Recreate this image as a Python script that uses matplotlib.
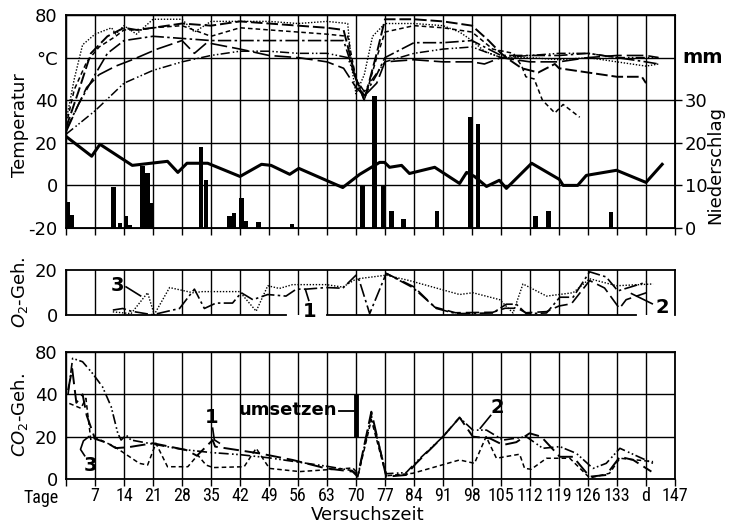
import matplotlib
matplotlib.use('Agg')
import matplotlib.pyplot as plt
import matplotlib.transforms as mtransforms
from matplotlib import font_manager

# ---- data ----
days_grid = list(range(0, 148, 7))
x_labels = [''] + [str(d) for d in range(7, 140, 7)] + ['d', '147']

# precipitation bars (mm)
rain_day = [0.5, 1.5, 11.5, 13, 14.5, 15.5, 18.5, 19.7, 20.7, 32.6, 33.8, 39.5, 40.6, 42.3,
            43.5, 46.5, 54.5, 71.6, 74.5, 76.5, 78.6, 81.5, 89.5, 97.7, 99.5, 113.3, 116.5, 131.6]
rain_mm = [6, 3, 9.6, 1.2, 2.8, 0.7, 14.6, 13, 5.9, 19, 11.3, 2.8, 3.5, 7.1,
           1.7, 1.4, 1, 10, 31, 10, 4, 2, 4, 26, 24.5, 2.8, 4, 3.7]

# air temperature (deg C)
air_day = [0, 6.2, 8.2, 16, 24.5, 27, 29.2, 34.2, 42, 47.2, 49.5, 54, 56.2, 66.8, 70.9, 75.7,
           76.9, 78.1, 81, 82.9, 89, 95, 96.7, 98.6, 101.5, 104.6, 106.3, 112.4, 119.1, 120,
           123.5, 125.6, 132.9, 140, 143.9]
air_t = [23, 13.7, 19.3, 9.4, 11.3, 6.1, 10.4, 10.4, 4.2, 9.9, 9.4, 5.2, 8, -1, 5.2, 10.8,
         10.8, 8.5, 9.4, 5.6, 8.5, 0.9, 6.1, 4.2, -0.5, 2.4, -1.4, 10.4, 2.8, 0,
         0, 4.7, 7.1, 1.4, 9.9]

# compost temperatures (deg C), six measuring points
t1_day = [0, 2, 4, 7, 11, 12, 14, 17, 21, 28, 31, 35, 42, 49, 56, 63, 68, 69, 70, 72, 74, 77,
          84, 91, 95, 98, 101, 105, 112, 119, 126, 133, 140, 143]
t1_val = [30, 50, 66, 71, 74, 71, 75, 71, 78, 78, 72, 77, 77, 77, 76, 77, 76, 55, 43, 52, 70, 76,
          76, 75, 72, 68, 63, 60, 60, 59, 60, 58, 56, 57]
t2_day = [0, 3, 6, 10, 14, 17, 21, 28, 35, 42, 49, 56, 63, 67, 70, 72, 75, 77, 84, 91, 98, 102,
          105, 107, 110, 114, 118, 119, 126, 133, 139, 140]
t2_val = [27, 44, 62, 70, 74, 73, 74, 76, 75, 77, 76, 75, 74, 73, 50, 40, 62, 78, 78, 77, 75, 68,
          62, 59, 55, 53, 57, 55, 53, 51, 51, 48]
t3_day = [0, 2, 5, 8, 12, 14, 18, 21, 28, 35, 42, 49, 56, 63, 68, 70, 72, 75, 77, 84, 91, 98,
          103, 108, 110, 111, 113, 115, 118, 120, 124]
t3_val = [28, 45, 58, 65, 70, 73, 73, 74, 75, 70, 74, 73, 72, 71, 70, 50, 40, 60, 72, 75, 74, 72,
          64, 62, 56, 51, 50, 40, 34, 38, 32]
t4_day = [0, 3, 7, 10, 14, 21, 28, 35, 42, 49, 56, 63, 67, 70, 72, 75, 77, 84, 91, 98, 105, 112,
          119, 126, 133, 140, 143]
t4_val = [26, 38, 52, 62, 68, 70, 69, 68, 68, 68, 68, 68, 68, 50, 42, 52, 60, 67, 67, 68, 61, 61,
          61, 62, 60, 58, 57]
t5_day = [0, 7, 14, 21, 28, 35, 42, 49, 56, 63, 68, 70, 72, 74, 77, 84, 91, 98, 105, 112, 119,
          126, 133, 140, 143]
t5_val = [24, 35, 48, 54, 58, 61, 63, 63, 62, 62, 60, 50, 44, 50, 58, 62, 64, 65, 60, 61, 62,
          62, 60, 60, 60]
t6_day = [0, 3, 5, 8, 12, 16, 22, 28, 31, 34, 42, 49, 56, 63, 67, 70, 72, 75, 77, 84, 91, 98,
          101, 105, 112, 119, 126, 133, 140, 143]
t6_val = [25, 38, 46, 52, 56, 59, 64, 68, 62, 67, 64, 61, 60, 58, 55, 46, 42, 48, 58, 59, 58, 58,
          57, 60, 58, 58, 60, 61, 61, 60]

# O2 content
o2_1_day = [11.3, 13.7, 15.7, 20.9, 27.4, 31, 33.4, 36.2, 40.2, 42.3, 45.1, 48.7, 53.1, 55.6,
            58, 62.8, 66.8, 70, 70.8, 73.3, 77.3, 83.7, 89.4, 94.2, 103, 106.3, 108.7, 111.1,
            116, 119.2, 122.4, 126.4, 130.4, 133.2, 140.1]
o2_1_val = [2.2, 2.9, 1.7, 0.1, 2.9, 11.5, 2.9, 5.3, 5.3, 9.9, 6.8, 9.1, 8.4, 11.5,
            11.5, 12.2, 11.9, 17.7, 15.3, 0.6, 18.5, 12.2, 2.9, 0.6, 0.9, 4.8, 4.8, 0.6,
            0.9, 7.9, 7.9, 19.2, 16.9, 10.7, 14.6]
o2_2_day = [77.3, 84, 89, 94, 103, 106, 109, 111, 116, 119, 122, 126.4, 130, 133.6, 135.2, 140.1]
o2_2_val = [18.5, 12.5, 3.5, 1, 1.2, 3, 3, 1, 1.5, 4, 5, 15.3, 12, 2.9, 6.8, 9.9]
o2_3_day = [11.3, 15.7, 19.7, 21.3, 25, 30.6, 33, 41.9, 45.9, 48.7, 51.5, 54.7, 62.8, 66.8, 70,
            77.3, 82.9, 95, 98.2, 104.7, 107.9, 110.3, 116, 122.4, 126.4, 132.9, 141.7]
o2_3_val = [1.4, 0.6, 9.9, 0.2, 12.2, 9.9, 10.4, 10.4, 1.7, 13, 11.8, 13.5, 13.5, 12.4, 16,
            17.7, 15.3, 9.1, 9.9, 6.8, 0.9, 13.8, 8.4, 9.9, 16.1, 13, 13.8]

# CO2 content (axis as drawn: top grid line labelled 80)
co2_1_day = [0.5, 1.5, 2.5, 4, 5, 7, 10, 12, 15, 21, 29, 31.6, 35.4, 36, 46.7, 54.7, 62.8, 69.2,
             70.4, 73.7, 77.3, 82.1, 84.5, 91, 95, 98.2, 102.3, 105.5, 108.7, 111.9, 114.7,
             119.2, 122.4, 126.4, 130.4, 133.7, 136.9, 141.3]
co2_1_val = [42, 52, 36, 40, 30, 19, 17, 14.6, 15, 16.9, 13.7, 11, 18.4, 15.3, 12.1, 9, 5, 3.5,
             1.1, 31.8, 1.1, 1.9, 7.4, 20, 29.1, 20, 19.2, 16.1, 17.4, 21.6, 20,
             10.5, 10.5, 1.1, 1.9, 10.5, 9, 3.5]
co2_2_day = [0.5, 1.6, 4, 6.4, 8.8, 10.9, 12.5, 13.3, 14.5, 15.7, 21, 28, 35, 42, 49, 56, 63, 69,
             70.5, 73.7, 77.3, 82.1, 84.5, 91, 95, 98.2, 101.5, 105.5, 111.1, 115.1, 119.2,
             123.2, 127.2, 130.4, 133.7, 141.7]
co2_2_val = [40, 57, 55.4, 49.9, 43.6, 34.2, 21.6, 18.4, 20.8, 18.4, 16.5, 14, 12.5, 11.5, 10,
             8, 6, 4, 2, 30, 2.5, 3, 8, 20, 29, 23.1, 23.1, 18.4, 20, 14.5, 15.3,
             12.1, 5, 7.4, 14.5, 7.4]
co2_3_day = [0.8, 3.6, 4.8, 6, 7.2, 11.7, 17.7, 19.7, 21.7, 24.5, 29.4, 31.8, 33.8, 35.5, 43,
             45.9, 49.1, 56.4, 69.2, 70.6, 73.7, 77.3, 83.7, 95, 98.6, 101.4, 103.9, 107.1,
             109.5, 110.7, 112.3, 116, 121.6, 126.4, 131.2, 133.7, 141.7]
co2_3_val = [35.7, 33.4, 38.1, 18.4, 19.5, 15.3, 7.4, 6.6, 16.9, 5.8, 5.8, 11.3, 6.6, 5.4, 5.8,
             14.5, 5, 3.5, 5.2, 2.5, 28, 1.5, 2.7, 9, 7.4, 20, 9.8, 10.9,
             11.7, 5, 4.6, 9.8, 9.8, 0.5, 2.7, 9.8, 8.2]

# ---- fonts ----
names = {f.name for f in font_manager.fontManager.ttflist}
narrow = next((n for n in ['Liberation Sans Narrow', 'DejaVu Sans Condensed', 'Roboto Condensed']
               if n in names), 'DejaVu Sans')
plt.rcParams['font.family'] = ['DejaVu Sans']
plt.rcParams['font.size'] = 13

fig = plt.figure(figsize=(7.35, 5.24), dpi=100)
L, W = 66 / 735, 609 / 735
ax1 = fig.add_axes([L, 1 - 228 / 524, W, 213 / 524])
ax2 = fig.add_axes([L, 1 - 315 / 524, W, 45 / 524])
ax3 = fig.add_axes([L, 1 - 479 / 524, W, 127 / 524])

for ax in (ax1, ax2, ax3):
    ax.set_xlim(0, 147)
    ax.set_xticks(days_grid)
    ax.grid(True, color='black', lw=1)
    for s in ax.spines.values():
        s.set_linewidth(1.3)
    ax.tick_params(axis='y', length=0, pad=6)
    ax.tick_params(axis='x', length=5, width=1, direction='out')
    ax.set_axisbelow(True)

# ---- top panel: temperatures and precipitation ----
ax1.set_ylim(-20, 80)
ax1.set_yticks([-20, 0, 20, 40, 60, 80])
ax1.set_yticklabels(['-20', '0', '20', '40', '°C', '80'])
ax1.set_xticklabels([])

ax1.plot(t1_day, t1_val, color='black', lw=1.0, ls=(0, (1, 1.2)))
ax1.plot(t2_day, t2_val, color='black', lw=1.4, ls=(0, (6, 2)))
ax1.plot(t3_day, t3_val, color='black', lw=1.1, ls=(0, (3, 2)))
ax1.plot(t4_day, t4_val, color='black', lw=1.2, ls=(0, (8, 2, 1.5, 2)))
ax1.plot(t5_day, t5_val, color='black', lw=1.1, ls=(0, (6, 2, 1, 1.5, 1, 1.5)))
ax1.plot(t6_day, t6_val, color='black', lw=1.2, ls=(0, (10, 3)))
ax1.plot(air_day, air_t, color='black', lw=2.2)

ax1r = ax1.twinx()
ax1r.set_ylim(0, 50)
ax1r.set_yticks([0, 10, 20, 30])
ax1r.tick_params(axis='y', length=5, width=1, pad=2)
ax1r.bar(rain_day, rain_mm, width=1.1, color='black')
ax1r.text(1.012, 0.8, 'mm', transform=ax1r.transAxes, fontsize=14, fontweight='bold',
          va='center', ha='left')
fig.text(715 / 735, 1 - 165 / 524, 'Niederschlag', rotation=90, ha='center', va='center',
         fontsize=13)

fig.text(0.027, 1 - 125 / 524, 'Temperatur', rotation=90, ha='center', va='center', fontsize=13)

# ---- O2 panel ----
ax2.set_ylim(0, 20)
ax2.set_yticks([0, 20])
ax2.set_xticklabels([])
ax2.grid(False, axis='y')
ax2.spines['bottom'].set_visible(False)
ax2.tick_params(axis='x', length=0)
ax2.plot([0, 53], [0, 0], color='black', lw=1.3, clip_on=False)
ax2.plot([63, 137.5], [0, 0], color='black', lw=1.3, clip_on=False)
ax2.plot(o2_1_day, o2_1_val, color='black', lw=1.2, ls=(0, (8, 2, 1.5, 2)))
ax2.plot(o2_2_day, o2_2_val, color='black', lw=1.2, ls=(0, (8, 3)))
ax2.plot(o2_3_day, o2_3_val, color='black', lw=1.0, ls=(0, (1, 1.2)))
ax2.text(12.5, 13, '3', fontsize=14, fontweight='bold', ha='center', va='center')
ax2.plot([14.5, 18], [12.5, 8.5], color='black', lw=1.2)
ax2.text(58.8, 1.5, '1', fontsize=14, fontweight='bold', ha='center', va='center')
ax2.plot([57.8, 58.6], [11.3, 6.5], color='black', lw=1.2)
ax2.text(144, 3.5, '2', fontsize=14, fontweight='bold', ha='center', va='center')
ax2.plot([136.5, 141.5], [9.5, 5], color='black', lw=1.2)
fig.text(0.027, 1 - 292 / 524, '$O_2$-Geh.', rotation=90, ha='center', va='center', fontsize=13)

# ---- CO2 panel ----
ax3.set_ylim(0, 60)
ax3.set_yticks([0, 20, 40, 60])
ax3.set_yticklabels(['0', '20', '40', '80'])
ax3.set_xticklabels(x_labels, fontfamily=narrow, fontsize=13)
ax3.tick_params(axis='x', pad=1)
ax3.plot(co2_1_day, co2_1_val, color='black', lw=1.4, ls=(0, (8, 3)))
ax3.plot(co2_2_day, co2_2_val, color='black', lw=1.2, ls=(0, (6, 2, 1, 1.5, 1, 1.5)))
ax3.plot(co2_3_day, co2_3_val, color='black', lw=1.1, ls=(0, (3, 2)))

ax3.plot([70, 70], [20, 40], color='black', lw=3.5, solid_capstyle='butt')
ax3.plot([66, 69.5], [32, 32], color='black', lw=1.3)
ax3.text(65.5, 32.5, 'umsetzen', fontsize=13, fontweight='bold', ha='right', va='center')
ax3.text(35.2, 29, '1', fontsize=14, fontweight='bold', ha='center', va='center')
ax3.plot([35.4, 35.8, 37], [24, 18.5, 17], color='black', lw=1.2)
ax3.text(104, 34, '2', fontsize=14, fontweight='bold', ha='center', va='center')
ax3.plot([102.5, 100], [30, 24], color='black', lw=1.2)
ax3.text(5.8, 6.5, '3', fontsize=14, fontweight='bold', ha='center', va='center')
ax3.plot([4.5, 3.5, 4.2, 5.5], [11, 14, 18, 20], color='black', lw=1.2)

trans = mtransforms.blended_transform_factory(ax3.transData, ax3.transAxes)
ax3.text(-1.8, -0.075, 'Tage', transform=trans, ha='right', va='top', fontsize=13,
         fontfamily=narrow)
fig.text(0.5, 1 - 515 / 524, 'Versuchszeit', ha='center', va='center', fontsize=13)
fig.text(0.027, 1 - 415 / 524, '$CO_2$-Geh.', rotation=90, ha='center', va='center', fontsize=13)

fig.savefig('out.png', dpi=100)
